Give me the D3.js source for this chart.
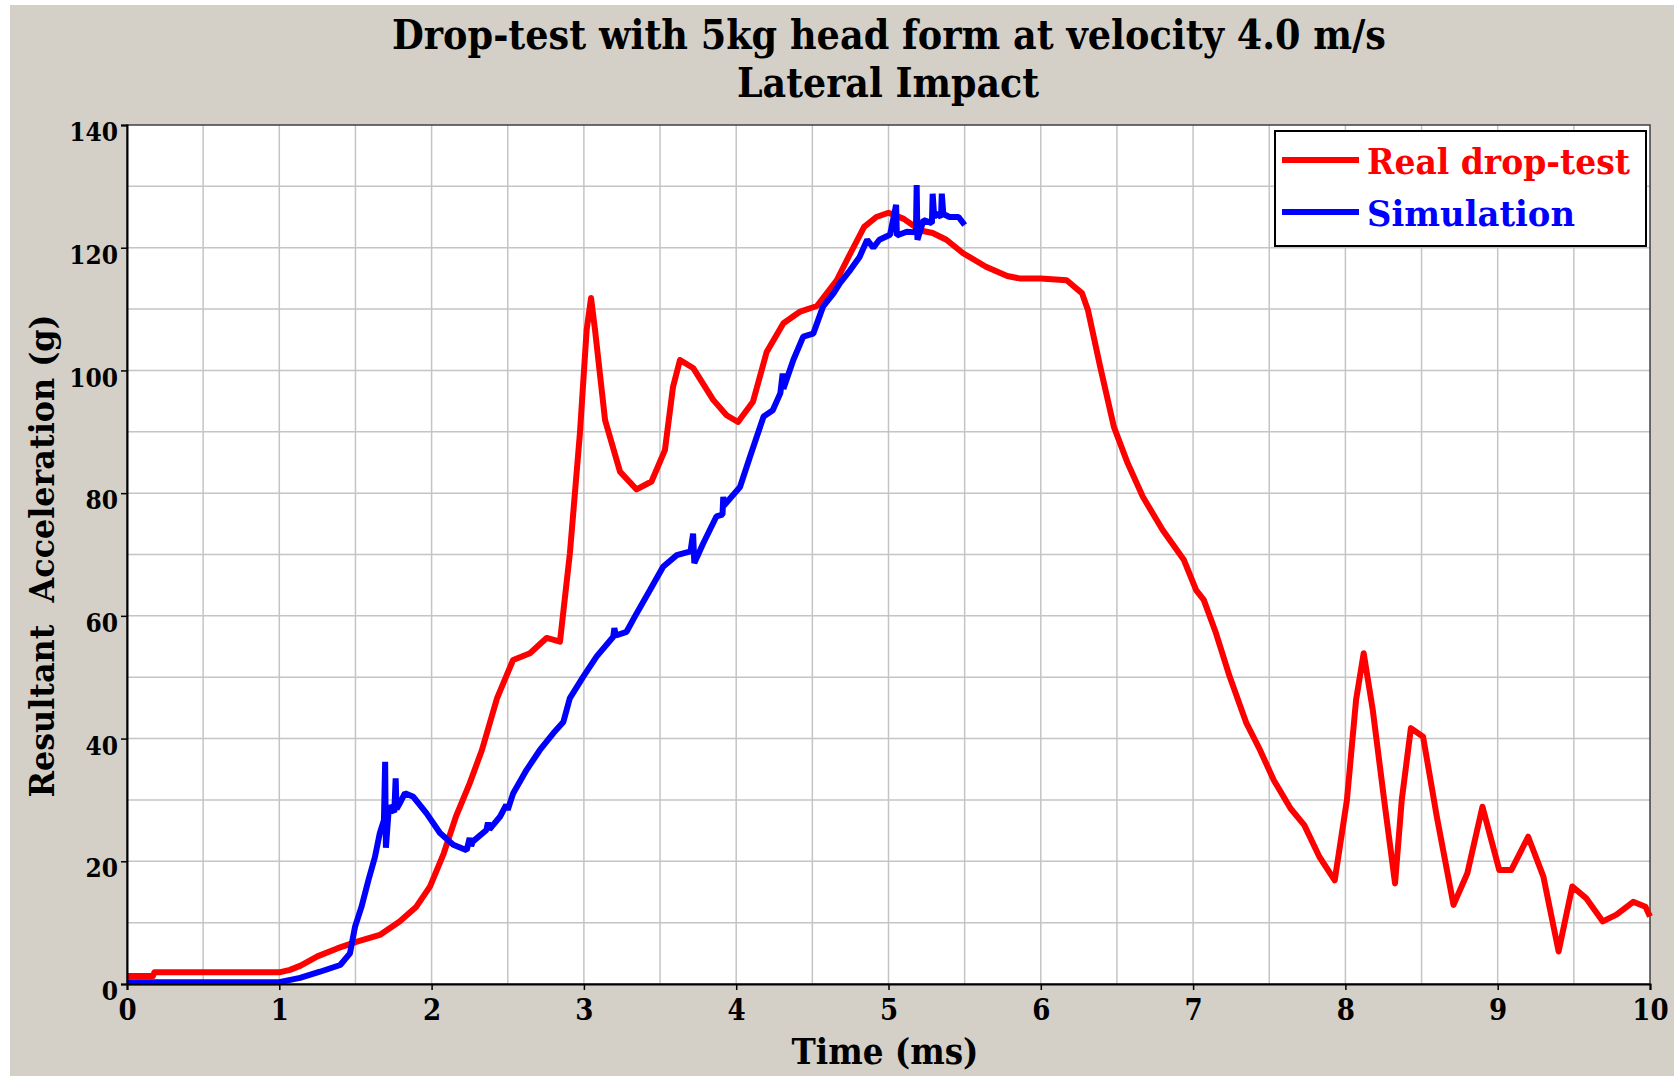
<!DOCTYPE html>
<html>
<head>
<meta charset="utf-8">
<script src="https://cdn.jsdelivr.net/npm/d3@7"></script>
<style>
  body { margin: 0; background: #ffffff; }
  text { font-family: "DejaVu Serif Condensed", "DejaVu Serif", serif; font-weight: bold; }
</style>
</head>
<body>
<script>
// Drop-test chart: real drop-test vs simulation

// real drop-test (time in ms, acceleration in g)
var realTime = [0, 0.17, 0.18, 1.0, 1.07, 1.14, 1.25, 1.38, 1.51, 1.66, 1.79, 1.90, 1.99, 2.08, 2.16, 2.25, 2.33, 2.43, 2.535, 2.646, 2.755, 2.843, 2.908, 2.974, 3.018, 3.047, 3.073, 3.139, 3.237, 3.346, 3.444, 3.532, 3.585, 3.631, 3.717, 3.849, 3.937, 4.012, 4.11, 4.20, 4.31, 4.42, 4.53, 4.66, 4.75, 4.84, 4.92, 5.00, 5.10, 5.21, 5.29, 5.38, 5.49, 5.64, 5.78, 5.86, 6.0, 6.17, 6.27, 6.31, 6.39, 6.48, 6.57, 6.67, 6.80, 6.94, 7.02, 7.07, 7.15, 7.24, 7.35, 7.44, 7.53, 7.64, 7.73, 7.83, 7.93, 8.01, 8.07, 8.12, 8.18, 8.26, 8.326, 8.37, 8.43, 8.51, 8.60, 8.71, 8.80, 8.90, 9.01, 9.09, 9.20, 9.30, 9.40, 9.49, 9.58, 9.69, 9.78, 9.89, 9.97, 10.0];
var realAccel = [1.3, 1.3, 1.9, 1.9, 2.3, 3.0, 4.5, 5.8, 6.9, 8.0, 10.2, 12.6, 15.9, 21.3, 27.3, 32.7, 38.1, 46.6, 52.8, 53.9, 56.4, 55.8, 70.2, 89.8, 106.6, 111.8, 106.6, 91.9, 83.5, 80.6, 81.9, 87.0, 97.3, 101.7, 100.4, 95.2, 92.7, 91.6, 94.9, 103, 107.7, 109.6, 110.5, 114.7, 119.1, 123.4, 125, 125.7, 124.7, 122.8, 122.4, 121.3, 119.1, 116.9, 115.4, 115, 115, 114.7, 112.6, 109.8, 100.6, 90.8, 84.9, 79.4, 74.0, 69.1, 64.2, 62.6, 57.2, 50.1, 42.5, 38.1, 33.2, 28.6, 25.9, 20.7, 16.9, 30, 46.3, 53.9, 44.6, 28.9, 16.4, 30, 41.7, 40.3, 27.3, 12.9, 18.0, 28.9, 18.6, 18.6, 24.0, 17.5, 5.3, 15.9, 14.0, 10.2, 11.3, 13.4, 12.6, 11.0];

// simulation (noisy, spikes kept as read)
var simTime = [0, 1.0, 1.136, 1.267, 1.40, 1.464, 1.497, 1.54, 1.585, 1.628, 1.66, 1.687, 1.695, 1.70, 1.72, 1.755, 1.764, 1.77, 1.79, 1.825, 1.88, 1.967, 2.055, 2.142, 2.23, 2.25, 2.26, 2.27, 2.36, 2.37, 2.38, 2.45, 2.49, 2.50, 2.536, 2.624, 2.71, 2.80, 2.865, 2.908, 2.996, 3.084, 3.193, 3.20, 3.21, 3.28, 3.346, 3.434, 3.52, 3.61, 3.70, 3.717, 3.725, 3.783, 3.87, 3.91, 3.915, 3.92, 4.025, 4.09, 4.18, 4.24, 4.29, 4.305, 4.31, 4.375, 4.44, 4.506, 4.57, 4.64, 4.68, 4.75, 4.81, 4.86, 4.90, 4.94, 5.01, 5.05, 5.055, 5.12, 5.18, 5.185, 5.19, 5.23, 5.285, 5.29, 5.30, 5.316, 5.345, 5.35, 5.36, 5.40, 5.46, 5.50];
var simAccel = [0.3, 0.3, 1.0, 2.0, 3.1, 5.0, 9.3, 12.6, 16.9, 20.7, 24.6, 26.7, 36.2, 22.2, 29, 28, 33.5, 28.5, 29.4, 31.1, 30.5, 27.8, 24.6, 22.7, 21.8, 23.8, 22.5, 23.2, 25.1, 26.3, 25.2, 27.3, 29.2, 28.4, 31.1, 34.9, 38.1, 40.9, 42.7, 46.6, 50.1, 53.4, 56.6, 58.0, 56.8, 57.4, 60.4, 64.2, 68.0, 69.9, 70.5, 73.4, 68.6, 71.8, 76.2, 76.5, 79.4, 78, 81.0, 85.9, 92.5, 93.5, 96.3, 99.5, 97, 101.7, 105.5, 106.0, 110.4, 112.6, 114.2, 116.4, 118.5, 121.3, 120, 121.3, 122.1, 127, 122, 122.6, 122.5, 130.2, 121.3, 124.5, 124, 128.8, 125, 125.6, 125, 128.8, 125.5, 125.0, 125.0, 123.7];

// ticks and labels
var xTicks = [0, 1, 2, 3, 4, 5, 6, 7, 8, 9, 10];
var yTicks = [0, 20, 40, 60, 80, 100, 120, 140];
var seriesNames = ["Real drop-test", "Simulation"];
var seriesColors = ["#ff0000", "#0000ff"];

var width = 1674, height = 1076;
var margin = {top: 125, right: 24, bottom: 92, left: 127};
var plotW = width - margin.left - margin.right;
var plotH = height - margin.top - margin.bottom;

var svg = d3.select("body").append("svg")
    .attr("width", width)
    .attr("height", height);

// grey panel
svg.append("rect")
    .attr("x", 10).attr("y", 5)
    .attr("width", width - 10).attr("height", height - 5)
    .attr("fill", "#d4d0c8");

var g = svg.append("g")
    .attr("transform", "translate(" + margin.left + "," + margin.top + ")");

var x = d3.scaleLinear().domain([0, 10]).range([0, plotW]);
var y = d3.scaleLinear().domain([0, 140]).range([plotH, 0]);

g.append("rect")
    .attr("width", plotW).attr("height", plotH)
    .attr("fill", "#ffffff");

// grid every 0.5 ms and 10 g
g.append("g")
    .selectAll("line")
    .data(d3.range(0.5, 10, 0.5))
    .enter().append("line")
    .attr("x1", function(d) { return x(d); })
    .attr("x2", function(d) { return x(d); })
    .attr("y1", 0).attr("y2", plotH)
    .attr("stroke", "#c4c4c4").attr("stroke-width", 1.5);

g.append("g")
    .selectAll("line")
    .data(d3.range(10, 140, 10))
    .enter().append("line")
    .attr("y1", function(d) { return y(d); })
    .attr("y2", function(d) { return y(d); })
    .attr("x1", 0).attr("x2", plotW)
    .attr("stroke", "#c4c4c4").attr("stroke-width", 1.5);

// frame
g.append("rect")
    .attr("width", plotW).attr("height", plotH)
    .attr("fill", "none")
    .attr("stroke", "#404040").attr("stroke-width", 1.5);

// lines
var line = d3.line()
    .x(function(d) { return x(d[0]); })
    .y(function(d) { return y(d[1]); });

var realData = realTime.map(function(t, i) { return [t, realAccel[i]]; });
var simData = simTime.map(function(t, i) { return [t, simAccel[i]]; });

g.append("path")
    .datum(realData)
    .attr("d", line)
    .attr("fill", "none")
    .attr("stroke", seriesColors[0])
    .attr("stroke-width", 6)
    .attr("stroke-linejoin", "round");

g.append("path")
    .datum(simData)
    .attr("d", line)
    .attr("fill", "none")
    .attr("stroke", seriesColors[1])
    .attr("stroke-width", 6)
    .attr("stroke-linejoin", "bevel");

// axes
var xAxis = g.append("g")
    .attr("transform", "translate(0," + plotH + ")")
    .call(d3.axisBottom(x).tickValues(xTicks).tickSize(6).tickPadding(9).tickFormat(d3.format("d")));
xAxis.select(".domain").attr("stroke", "#000").attr("stroke-width", 2);
xAxis.selectAll("line").attr("stroke", "#000").attr("stroke-width", 1.5);
xAxis.selectAll("text")
    .attr("fill", "#000")
    .style("font-size", "29px")
    .style("font-family", "'DejaVu Serif Condensed', 'DejaVu Serif', serif")
    .style("font-weight", "bold");

var yAxis = g.append("g")
    .call(d3.axisLeft(y).tickValues(yTicks).tickSize(6).tickPadding(3));
yAxis.select(".domain").attr("stroke", "#000").attr("stroke-width", 2);
yAxis.selectAll("line").attr("stroke", "#000").attr("stroke-width", 1.5);
yAxis.selectAll("text")
    .attr("fill", "#000")
    .attr("dy", "0.6em")
    .style("font-size", "26px")
    .style("font-family", "'DejaVu Serif Condensed', 'DejaVu Serif', serif")
    .style("font-weight", "bold");

// title
svg.append("text")
    .attr("x", 889).attr("y", 49)
    .attr("text-anchor", "middle")
    .attr("textLength", 994).attr("lengthAdjust", "spacingAndGlyphs")
    .style("font-size", "41px")
    .text("Drop-test with 5kg head form at velocity 4.0 m/s");
svg.append("text")
    .attr("x", 888).attr("y", 97)
    .attr("text-anchor", "middle")
    .attr("textLength", 302).attr("lengthAdjust", "spacingAndGlyphs")
    .style("font-size", "41px")
    .text("Lateral Impact");

// axis titles
svg.append("text")
    .attr("x", 885).attr("y", 1064)
    .attr("text-anchor", "middle")
    .attr("textLength", 187).attr("lengthAdjust", "spacingAndGlyphs")
    .style("font-size", "35px")
    .text("Time (ms)");
svg.append("text")
    .attr("transform", "translate(54,556) rotate(-90)")
    .attr("text-anchor", "middle")
    .attr("textLength", 483).attr("lengthAdjust", "spacingAndGlyphs")
    .style("font-size", "34px")
    .style("white-space", "pre")
    .text("Resultant  Acceleration (g)");

// legend
var legend = svg.append("g").attr("transform", "translate(1275,131)");
legend.append("rect")
    .attr("width", 371).attr("height", 115)
    .attr("fill", "#ffffff")
    .attr("stroke", "#000").attr("stroke-width", 2);

var legendLen = [263, 208];
seriesNames.forEach(function(name, i) {
  var ly = 29 + i * 52;
  legend.append("line")
      .attr("x1", 7).attr("x2", 84)
      .attr("y1", ly).attr("y2", ly)
      .attr("stroke", seriesColors[i]).attr("stroke-width", 6);
  legend.append("text")
      .attr("x", 92).attr("y", ly + 14)
      .attr("fill", seriesColors[i])
      .attr("textLength", legendLen[i]).attr("lengthAdjust", "spacingAndGlyphs")
      .style("font-size", "36px")
      .text(name);
});
</script>
</body>
</html>
